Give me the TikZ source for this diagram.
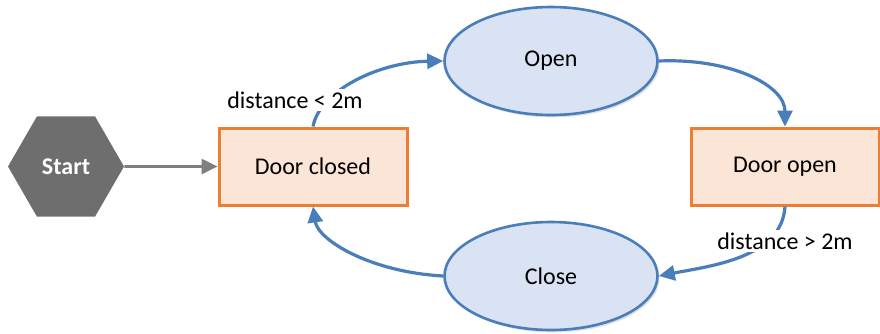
\documentclass[tikz,border=0pt]{standalone}
\usepackage{fontspec}
\setmainfont{Carlito}
\usetikzlibrary{shapes.geometric,arrows.meta,shadows}
\definecolor{hexgray}{HTML}{6E6E6E}
\definecolor{linkgray}{HTML}{7F7F7F}
\definecolor{stateedge}{HTML}{ED7D31}
\definecolor{statefill}{HTML}{FBE5D6}
\definecolor{actedge}{HTML}{4A7EBB}
\definecolor{actfill}{HTML}{DAE3F3}
\begin{document}
\begin{tikzpicture}[x=0.5pt,y=-0.5pt,
  font=\fontsize{12}{14}\selectfont,
  softshadow/.style={drop shadow={opacity=0.25,shadow xshift=1pt,shadow yshift=-1.2pt}},
  startnode/.style={regular polygon,regular polygon sides=6,minimum size=58pt,
    inner sep=0pt,fill=hexgray,text=white,font=\fontsize{12}{14}\selectfont\bfseries},
  statebox/.style={rectangle,draw=stateedge,fill=statefill,line width=1.5pt,
    minimum width=94pt,minimum height=38.5pt,softshadow},
  action/.style={ellipse,draw=actedge,fill=actfill,line width=1.3pt,
    minimum width=106.5pt,minimum height=54pt,softshadow},
  flow/.style={draw=actedge,line width=1.6pt,-{Triangle[length=8pt,width=7.5pt]}},
  feed/.style={draw=linkgray,line width=1.3pt,-{Triangle[length=8pt,width=7.5pt]}},
  guard/.style={fill=white,inner sep=1.5pt}]
\useasboundingbox (0,0) rectangle (880,333);

% states, actions and the entry point
\node[startnode] (st) at (66,166.5) {Start};
\node[statebox] (dc) at (313,166.5) {Door closed};
\node[statebox] (do) at (785,166.5) {Door open};
\node[action] (op) at (551,61) {Open};
\node[action] (cl) at (551,276) {Close};

% transitions
\draw[feed] (st.east) -- (dc.west);
\draw[flow] (dc.north) .. controls (320,90) and (380,62) .. (op.west);
\draw[flow] (op.east) .. controls (730,58) and (785,85) .. (do.north);
\draw[flow] (do.south) .. controls (782,258) and (710,266) .. (cl.east);
\draw[flow] (cl.west) .. controls (370,272) and (318,240) .. (dc.south);

% guard conditions
\node[guard] (g1) at (295,100) {distance < 2m};
\node[guard] (g2) at (785,241) {distance > 2m};
\end{tikzpicture}
\end{document}
